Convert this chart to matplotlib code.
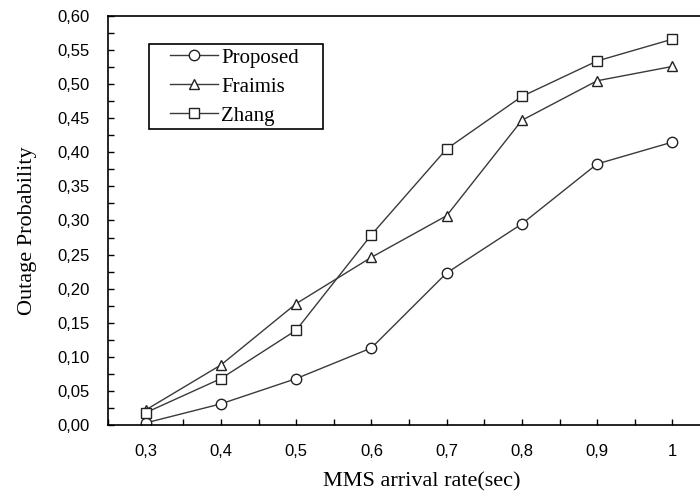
import matplotlib
matplotlib.use("Agg")
import matplotlib.pyplot as plt
from matplotlib.ticker import MultipleLocator, FuncFormatter

# dados
rate = [0.3, 0.4, 0.5, 0.6, 0.7, 0.8, 0.9, 1.0]
proposed = [0.003, 0.031, 0.068, 0.113, 0.223, 0.295, 0.383, 0.415]
fraimis = [0.022, 0.088, 0.178, 0.246, 0.307, 0.447, 0.505, 0.526]
zhang = [0.018, 0.068, 0.139, 0.279, 0.405, 0.482, 0.534, 0.566]

LINE = "#3a3a3a"
SERIF = "Liberation Serif"
SANS = "Liberation Sans"

fig = plt.figure(figsize=(7, 5.04), dpi=100)
ax = fig.add_axes([108 / 700, 79 / 504, 602 / 700, 409 / 504])

mk = dict(color=LINE, linewidth=1.0, markersize=7.5, markerfacecolor="white",
          markeredgecolor="#222222", markeredgewidth=1.0)
ax.plot(rate, proposed, marker="o", label="Proposed", **mk)
ax.plot(rate, fraimis, marker="^", label="Fraimis", **mk)
ax.plot(rate, zhang, marker="s", label="Zhang", **mk)

ax.set_xlim(0.25, 1.05)
ax.set_ylim(0, 0.60)

ax.xaxis.set_major_locator(MultipleLocator(0.1))
ax.xaxis.set_minor_locator(MultipleLocator(0.05))
ax.yaxis.set_major_locator(MultipleLocator(0.05))
ax.yaxis.set_minor_locator(MultipleLocator(0.025))

def fmt_x(v, pos):
    if abs(v - 1.0) < 1e-6:
        return "1"
    if v < 0.29 or v > 1.01:
        return ""
    return f"{v:.1f}".replace(".", ",")

ax.xaxis.set_major_formatter(FuncFormatter(fmt_x))
ax.yaxis.set_major_formatter(FuncFormatter(lambda v, p: f"{v:.2f}".replace(".", ",")))

ax.tick_params(which="both", direction="in", length=4, width=1.0, color="black")
ax.tick_params(axis="both", labelsize=12)
ax.tick_params(axis="y", pad=13)
ax.tick_params(axis="x", pad=14)
for lab in ax.get_xticklabels() + ax.get_yticklabels():
    lab.set_fontfamily(SANS)

for side in ("left", "bottom", "top"):
    ax.spines[side].set_linewidth(1.2)
ax.spines["right"].set_visible(False)

ax.set_xlabel("MMS arrival rate(sec)", fontsize=16, fontfamily=SERIF)
ax.xaxis.set_label_coords(0.522, -0.116)
ax.set_ylabel("Outage Probability", fontsize=16, fontfamily=SERIF)
ax.yaxis.set_label_coords(-0.118, 0.474)

# legenda sem moldura; a caixa é desenhada à parte
leg = ax.legend(loc="upper left", bbox_to_anchor=(170 / 700, 1 - 48 / 504),
                bbox_transform=fig.transFigure, frameon=False, borderaxespad=0,
                handlelength=2.3, handletextpad=0.15, borderpad=0,
                labelspacing=0.45, prop={"family": SERIF, "size": 15})
box = plt.Rectangle((149 / 700, 1 - 129 / 504), 174 / 700, 85 / 504,
                    transform=fig.transFigure, fill=False, edgecolor="black",
                    linewidth=1.2, zorder=5)
fig.add_artist(box)

fig.savefig("out.png", dpi=100)
